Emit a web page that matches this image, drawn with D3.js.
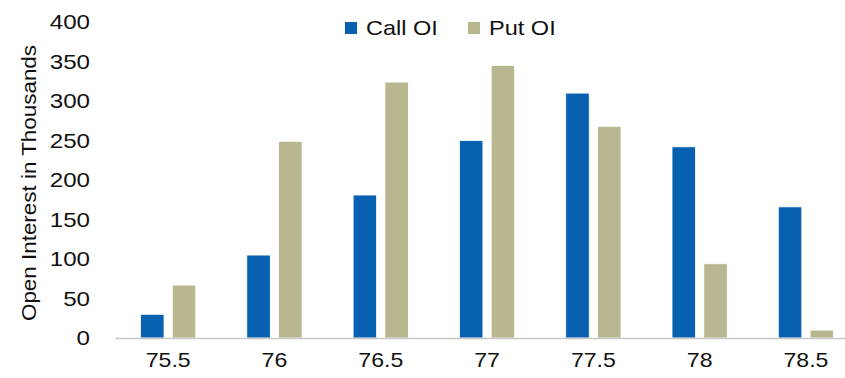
<!DOCTYPE html>
<html>
<head>
<meta charset="utf-8">
<script src="https://cdn.jsdelivr.net/npm/d3@7"></script>
<style>
  body { margin: 0; background: #fff; }
  text { font-family: "Liberation Sans", Arial, sans-serif; fill: #111; }
</style>
</head>
<body>
<div id="chart"></div>
<script>
const strikes = ["75.5", "76", "76.5", "77", "77.5", "78", "78.5"];
const callOI = [30, 105, 181, 250, 310, 242, 166];
const putOI = [67, 249, 324, 345, 268, 94, 10];
const yTicks = [0, 50, 100, 150, 200, 250, 300, 350, 400];
const seriesNames = ["Call OI", "Put OI"];
const colors = ["#0760B0", "#B8B790"];

const width = 845, height = 378;
const margin = { top: 22, left: 115, bottom: 40 };
const plotBottom = 338;

// the source font is a bit wider than Liberation Sans, stretch it a little
function widen(sel, k) {
    sel.each(function () {
        const w = this.getComputedTextLength();
        d3.select(this).attr("textLength", w * k).attr("lengthAdjust", "spacingAndGlyphs");
    });
}

const svg = d3.select("#chart").append("svg")
    .attr("width", width)
    .attr("height", height);

const x = d3.scaleBand()
    .domain(strikes)
    .range([margin.left, margin.left + 106.3 * strikes.length])
    .paddingInner(0.48)
    .paddingOuter(0.24);

const xInner = d3.scaleBand()
    .domain(seriesNames)
    .range([0, x.bandwidth()])
    .paddingInner(0.26);

const y = d3.scaleLinear()
    .domain([0, 400])
    .range([plotBottom, margin.top]);

const rows = strikes.map((s, i) => ({ k: s, vals: [callOI[i], putOI[i]] }));

// bars
const groups = svg.selectAll("g.grp")
    .data(rows)
    .join("g")
    .attr("class", "grp")
    .attr("transform", d => `translate(${x(d.k)},0)`);

groups.selectAll("rect")
    .data(d => d.vals.map((v, j) => ({ name: seriesNames[j], v, j })))
    .join("rect")
    .attr("x", d => xInner(d.name))
    .attr("y", d => y(d.v))
    .attr("width", xInner.bandwidth())
    .attr("height", d => y(0) - y(d.v))
    .attr("fill", d => colors[d.j])
    .attr("stroke", "#fff")
    .attr("stroke-width", 0.8);

// x axis
const xAxis = svg.append("g")
    .attr("transform", `translate(0,${plotBottom})`)
    .call(d3.axisBottom(x).tickSize(0).tickPadding(14));
xAxis.select(".domain").attr("stroke", "#c8c8c8").attr("stroke-width", 1.3);
xAxis.selectAll("text").attr("font-size", "21px").attr("fill", "#111").call(widen, 1.1);

// y axis
const yAxis = svg.append("g")
    .attr("transform", `translate(${margin.left},0)`)
    .call(d3.axisLeft(y).tickValues(yTicks).tickSize(0).tickPadding(25));
yAxis.select(".domain").remove();
yAxis.selectAll("text").attr("font-size", "21px").attr("fill", "#111").call(widen, 1.15);

// y title
svg.append("text")
    .attr("transform", `translate(36,${(plotBottom + 28) / 2}) rotate(-90)`)
    .attr("text-anchor", "middle")
    .attr("font-size", "20px")
    .text("Open Interest in Thousands")
    .call(widen, 1.12);

// legend
const legendPos = [345, 468];
const legend = svg.append("g");
seriesNames.forEach((n, i) => {
    legend.append("rect")
        .attr("x", legendPos[i])
        .attr("y", 22)
        .attr("width", 12)
        .attr("height", 12)
        .attr("fill", colors[i]);
    legend.append("text")
        .attr("x", legendPos[i] + 21)
        .attr("y", 35)
        .attr("font-size", "21px")
        .text(n)
        .call(widen, 1.12);
});
</script>
</body>
</html>
